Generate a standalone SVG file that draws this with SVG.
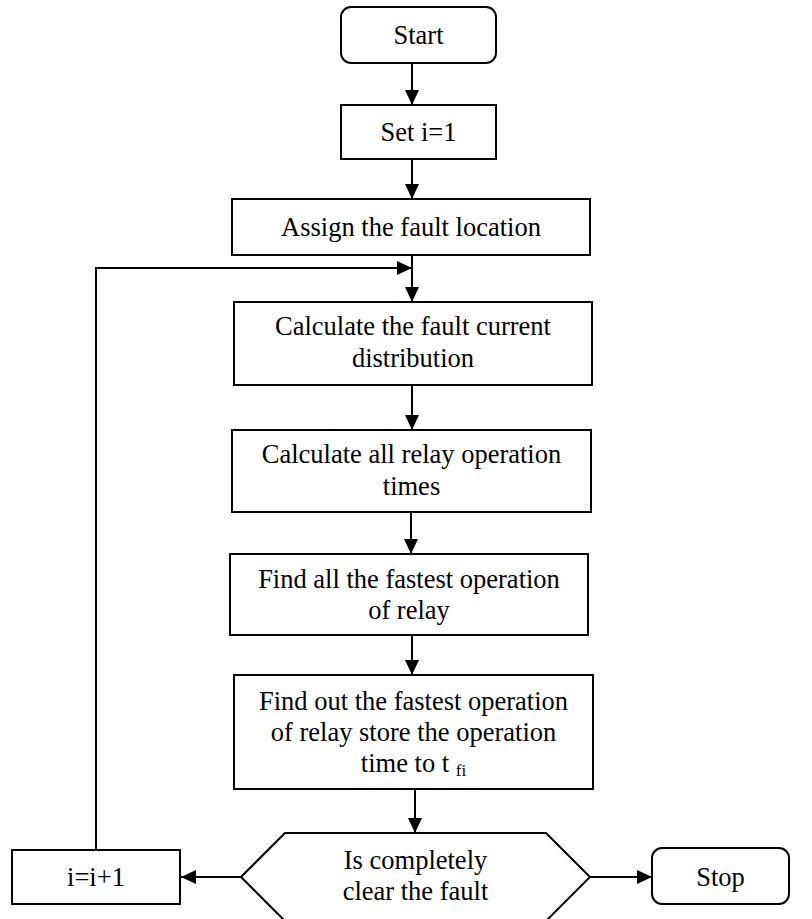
<svg xmlns="http://www.w3.org/2000/svg" width="812" height="919" viewBox="0 0 812 919">
  <style>
    .box { fill: #ffffff; stroke: #000000; stroke-width: 2; }
    .lbl { font-size: 26.5px; fill: #000000; text-anchor: middle; }
    .sub { font-size: 17px; }
    .edge { fill: none; stroke: #000000; stroke-width: 2; }
  </style>
  <defs>
    <marker id="arrow" markerUnits="userSpaceOnUse" markerWidth="15" markerHeight="14" refX="15" refY="7" orient="auto">
      <path d="M0,0 L15,7 L0,14 z" fill="#000000"/>
    </marker>
  </defs>
  <rect width="812" height="919" fill="#ffffff"/>

  <!-- connectors -->
  <g id="connectors">
    <path class="edge" d="M412,63 L412,105" marker-end="url(#arrow)"/>
    <path class="edge" d="M412,159 L412,199" marker-end="url(#arrow)"/>
    <path class="edge" d="M412,255 L412,302" marker-end="url(#arrow)"/>
    <path class="edge" d="M96,850 L96,268 L412,268" marker-end="url(#arrow)"/>
    <path class="edge" d="M412,385 L412,430" marker-end="url(#arrow)"/>
    <path class="edge" d="M411,512 L411,554" marker-end="url(#arrow)"/>
    <path class="edge" d="M412,635 L412,675" marker-end="url(#arrow)"/>
    <path class="edge" d="M415,789 L415,833" marker-end="url(#arrow)"/>
    <path class="edge" d="M241,877 L181,877" marker-end="url(#arrow)"/>
    <path class="edge" d="M590,877 L652,877" marker-end="url(#arrow)"/>
  </g>

  <!-- nodes; all labels set in a Times-metric serif -->
  <g id="nodes" font-family="Liberation Serif, DejaVu Serif, serif">
    <g id="start">
      <rect class="box" x="341" y="7" width="155" height="56" rx="10" ry="10"/>
      <text class="lbl" x="418.5" y="44">Start</text>
    </g>

    <g id="set-i">
      <rect class="box" x="341" y="105" width="155" height="54"/>
      <text class="lbl" x="418.5" y="141">Set i=1</text>
    </g>

    <g id="assign-location">
      <rect class="box" x="232" y="199" width="358" height="56"/>
      <text class="lbl" x="411" y="236">Assign the fault location</text>
    </g>

    <g id="calc-current">
      <rect class="box" x="234" y="302" width="358" height="83"/>
      <text class="lbl" x="413" y="335">Calculate the fault current</text>
      <text class="lbl" x="413" y="367">distribution</text>
    </g>

    <g id="calc-times">
      <rect class="box" x="232" y="430" width="359" height="82"/>
      <text class="lbl" x="411.5" y="463">Calculate all relay operation</text>
      <text class="lbl" x="411.5" y="495">times</text>
    </g>

    <g id="find-all">
      <rect class="box" x="230" y="554" width="358" height="81"/>
      <text class="lbl" x="409" y="588">Find all the fastest operation</text>
      <text class="lbl" x="409" y="619">of relay</text>
    </g>

    <g id="find-out">
      <rect class="box" x="234" y="675" width="359" height="114"/>
      <text class="lbl" x="413.5" y="710">Find out the fastest operation</text>
      <text class="lbl" x="413.5" y="741">of relay store the operation</text>
      <text class="lbl" x="413.5" y="772">time to t <tspan class="sub" dy="4">fi</tspan></text>
    </g>

    <g id="decision">
      <path class="box" d="M241,877 L285,833 L546,833 L590,877 L546,921 L285,921 Z"/>
      <text class="lbl" x="415.5" y="869">Is completely</text>
      <text class="lbl" x="415.5" y="900">clear the fault</text>
    </g>

    <g id="increment">
      <rect class="box" x="12" y="850" width="168" height="54"/>
      <text class="lbl" x="96" y="886">i=i+1</text>
    </g>

    <g id="stop">
      <rect class="box" x="652" y="848" width="137" height="56" rx="10" ry="10"/>
      <text class="lbl" x="720.5" y="886">Stop</text>
    </g>
  </g>
</svg>
